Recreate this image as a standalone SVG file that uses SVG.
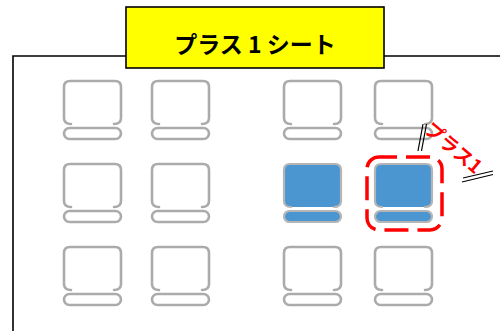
<svg xmlns="http://www.w3.org/2000/svg" xmlns:xlink="http://www.w3.org/1999/xlink" width="500" height="331" viewBox="0 0 500 331">
<style>
.gray{fill:none;stroke:#ababab;stroke-width:2.6;stroke-linecap:round}
.bar{fill:#ffffff;stroke:#ababab;stroke-width:2.6}
.bluefill{fill:#4b95d0;stroke:none}
.bluebar{fill:#4b95d0;stroke:#b5b5b5;stroke-width:2.2}
.blueback{fill:none;stroke:#b5b5b5;stroke-width:2.2;stroke-linecap:round}
.frame{fill:none;stroke:#000;stroke-width:1.6}
.title{font-family:"Noto Sans CJK JP","Liberation Sans",sans-serif;font-weight:bold;font-size:23px;fill:#000}
.red{font-family:"Noto Sans CJK JP","Liberation Sans",sans-serif;font-weight:bold;font-size:19px;fill:#ff0000}
.dbl{stroke:#000;stroke-width:1.2;fill:none}
</style>
<defs>
<g id="seat">
<path class="gray" d="M7,43 Q0,43 0,37 V6 Q0,0 6,0 H51 Q57,0 57,6 V37 Q57,43 50,43"/>
<rect class="bar" x="0" y="47" width="57" height="11" rx="5.5"/>
</g>
<g id="seatBlue">
<path class="bluefill" d="M0,6 Q0,0 6,0 H51 Q57,0 57,6 V37 Q57,43 51,43 H6 Q0,43 0,37 Z"/>
<path class="blueback" d="M7,43 Q0,43 0,37 V6 Q0,0 6,0 H51 Q57,0 57,6 V37 Q57,43 50,43"/>
<rect class="bluebar" x="0" y="47" width="57" height="11" rx="5.5"/>
</g>
</defs>
<rect width="500" height="331" fill="#ffffff"/>
<g id="frame">
<path class="frame" d="M13,331 V56 H500"/>
</g>
<g id="title">
<rect x="126" y="7" width="258" height="61" fill="#ffff00" stroke="#000" stroke-width="1.6"/>
<text class="title" x="255" y="53" text-anchor="middle">プラス 1 シート</text>
</g>
<g id="seat-r1c1"><use xlink:href="#seat" x="64" y="81"/></g>
<g id="seat-r1c2"><use xlink:href="#seat" x="152" y="81"/></g>
<g id="seat-r1c3"><use xlink:href="#seat" x="284" y="81"/></g>
<g id="seat-r1c4"><use xlink:href="#seat" x="375" y="81"/></g>
<g id="seat-r2c1"><use xlink:href="#seat" x="64" y="164"/></g>
<g id="seat-r2c2"><use xlink:href="#seat" x="152" y="164"/></g>
<g id="seat-r2c3"><use xlink:href="#seatBlue" x="284" y="164"/></g>
<g id="seat-r2c4"><use xlink:href="#seatBlue" x="375" y="164"/></g>
<g id="seat-r3c1"><use xlink:href="#seat" x="64" y="247"/></g>
<g id="seat-r3c2"><use xlink:href="#seat" x="152" y="247"/></g>
<g id="seat-r3c3"><use xlink:href="#seat" x="284" y="247"/></g>
<g id="seat-r3c4"><use xlink:href="#seat" x="375" y="247"/></g>
<g id="highlight">
<rect x="367" y="157" width="75" height="73" rx="12" fill="none" stroke="#ff0000" stroke-width="3.5" stroke-dasharray="24 9" stroke-dashoffset="6"/>
</g>
<g id="connectors">
<line class="dbl" x1="418" y1="151" x2="423" y2="124"/>
<line class="dbl" x1="421.5" y1="151" x2="426.5" y2="124"/>
<line class="dbl" x1="462" y1="182" x2="493" y2="174.5"/>
<line class="dbl" x1="463" y1="178" x2="493" y2="171"/>
</g>
<g id="label">
<text class="red" x="449" y="153" text-anchor="middle" transform="rotate(40 449 153)">プラス1</text>
</g>
</svg>
